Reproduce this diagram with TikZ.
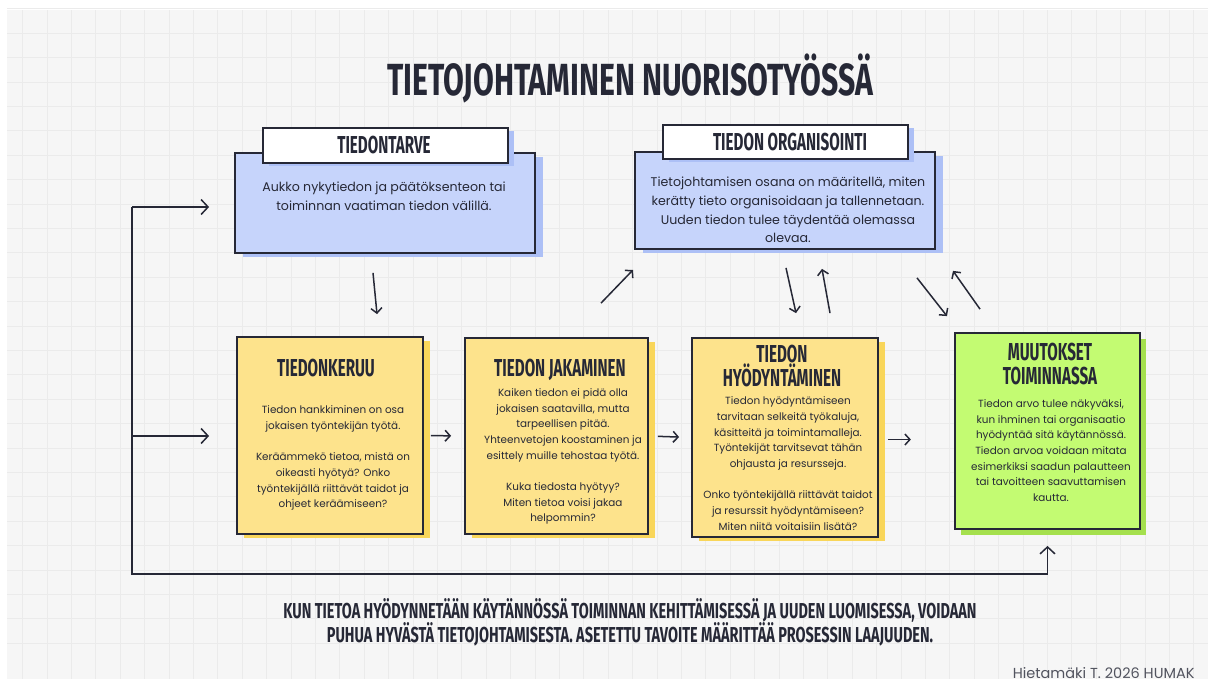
\documentclass[tikz,border=0pt]{standalone}
\usepackage{fontspec}
\setmainfont{Poppins}
\newfontfamily\handfont[FakeStretch=0.62]{Fira Sans}
\newfontfamily\titlefont[FakeStretch=0.67]{Fira Sans}
\usepackage{tikz}
\usetikzlibrary{arrows.meta,calc,shadows}
\definecolor{ink}{HTML}{262836}
\definecolor{paper}{HTML}{F6F6F6}
\definecolor{gridgray}{HTML}{EBEBEB}
\definecolor{bluefill}{HTML}{C6D4FB}
\definecolor{blueshade}{HTML}{ADC0F6}
\definecolor{ylwfill}{HTML}{FDE38C}
\definecolor{ylwshade}{HTML}{F9D65A}
\definecolor{grnfill}{HTML}{C3FB72}
\definecolor{grnshade}{HTML}{A5E04E}
\tikzstyle{card} = [draw=ink, line width=1.8pt, inner sep=0pt]
\tikzstyle{line} = [draw=ink, line width=1.5pt]
\tikzset{
  arr/.style ={line, -{Straight Barb[length=5pt,width=11pt]}},
  bigarr/.style ={line, -{Straight Barb[length=7pt,width=15pt]}},
  bluecard/.style ={card, fill=bluefill, minimum width=300pt, minimum height=100pt,
    drop shadow={shadow xshift=8pt, shadow yshift=-4pt, fill=blueshade, opacity=1}},
  tab/.style ={card, fill=white, minimum width=245pt, minimum height=35pt,
    drop shadow={shadow xshift=6pt, shadow yshift=-3pt, fill=blueshade, opacity=1}},
  ylwcard/.style ={card, fill=ylwfill, minimum width=186pt, minimum height=197pt,
    drop shadow={shadow xshift=7pt, shadow yshift=-4pt, fill=ylwshade, opacity=1}},
  grncard/.style ={card, fill=grnfill, minimum width=185pt, minimum height=196pt,
    drop shadow={shadow xshift=6pt, shadow yshift=-6pt, fill=grnshade, opacity=1}},
  head/.style ={text=ink, align=center, font=\handfont\bfseries\fontsize{24.5}{24}\selectfont},
  body/.style ={text=ink, align=center, font=\fontsize{10.4}{15.7}\selectfont},
  bigbody/.style ={text=ink, align=center, font=\fontsize{12.6}{18.7}\selectfont}
}

\begin{document}
\begin{tikzpicture}[x=1pt,y=-1pt]
	\useasboundingbox (0,0) rectangle (1215,683);
	% paper with grid
	\fill[paper] (7,10) rectangle (1208,679);
	\foreach \i in {0,...,48}
		\draw[gridgray, line width=1pt] (22.7+24.4*\i,10) -- (22.7+24.4*\i,679);
	\foreach \j in {0,...,26}
		\draw[gridgray, line width=1pt] (7,8.9+24.4*\j) -- (1208,8.9+24.4*\j);

	\node[text=ink, font=\titlefont\bfseries\fontsize{45}{50}\selectfont] (title) at (630,78) {TIETOJOHTAMINEN NUORISOTYÖSSÄ};

	% top cards
	\node[bluecard] (need) at (385,203) {};
	\node[tab] (needtab) at (385.5,145.5) {};
	\node[head] (needhead) at (384,145) {TIEDONTARVE};
	\node[bigbody] (needtext) at (384,196) {Aukko nykytiedon ja päätöksenteon tai\\toiminnan vaatiman tiedon välillä.};

	\node[bluecard, minimum height=97pt] (org) at (785,200.5) {};
	\node[tab, minimum height=34pt] (orgtab) at (785.5,142) {};
	\node[head] (orghead) at (790,142) {TIEDON ORGANISOINTI};
	\node[bigbody] (orgtext) at (788,210) {Tietojohtamisen osana on määritellä, miten\\kerätty tieto organisoidaan ja tallennetaan.\\Uuden tiedon tulee täydentää olemassa\\olevaa.};

	% bottom cards
	\node[ylwcard] (keruu) at (330,435.5) {};
	\node[head] (keruuhead) at (326,368) {TIEDONKERUU};
	\node[body] (keruutext) at (333,458) {Tiedon hankkiminen on osa\\jokaisen työntekijän työtä.\\[15.7pt]Keräämmekö tietoa, mistä on\\oikeasti hyötyä? Onko\\työntekijällä riittävät taidot ja\\ohjeet keräämiseen?};

	\node[ylwcard, minimum width=183pt, minimum height=196pt] (jako) at (556.5,436) {};
	\node[head] (jakohead) at (560,370) {TIEDON JAKAMINEN};
	\node[body] (jakotext) at (563,456.5) {Kaiken tiedon ei pidä olla\\jokaisen saatavilla, mutta\\tarpeellisen pitää.\\Yhteenvetojen koostaminen ja\\esittely muille tehostaa työtä.\\[15.7pt]Kuka tiedosta hyötyy?\\Miten tietoa voisi jakaa\\helpommin?};

	\node[ylwcard, minimum height=199pt] (hyoty) at (785,437.5) {};
	\node[head] (hyotyhead) at (782,366.5) {TIEDON\\HYÖDYNTÄMINEN};
	\node[body] (hyotytext) at (788,463.5) {Tiedon hyödyntämiseen\\tarvitaan selkeitä työkaluja,\\käsitteitä ja toimintamalleja.\\Työntekijät tarvitsevat tähän\\ohjausta ja resursseja.\\[15.7pt]Onko työntekijällä riittävät taidot\\ja resurssit hyödyntämiseen?\\Miten niitä voitaisiin lisätä?};

	\node[grncard] (muutos) at (1047.5,431) {};
	\node[head] (muutoshead) at (1050,364.5) {MUUTOKSET\\TOIMINNASSA};
	\node[body] (muutostext) at (1051,450.5) {Tiedon arvo tulee näkyväksi,\\kun ihminen tai organisaatio\\hyödyntää sitä käytännössä.\\Tiedon arvoa voidaan mitata\\esimerkiksi saadun palautteen\\tai tavoitteen saavuttamisen\\kautta.};

	% flow arrows
	\draw[arr] ($(need.south)+(-12,19)$) -- ($(keruu.north)+(47,-22)$);
	\draw[arr, shorten <=7pt, shorten >=13pt] (keruu.east) -- (jako.west);
	\draw[arr, shorten <=9pt, shorten >=12pt] (jako.east) -- (hyoty.west);
	\draw[arr] ($(hyoty.east)+(9,2)$) -- ($(hyoty.east)+(32,2)$);
	\draw[arr] ($(jako.north)+(44.5,-34)$) -- ($(org.south)+(-152,20)$);
	\draw[arr] ($(org.south)+(1,18)$) -- ($(hyoty.north)+(11,-24)$);
	\draw[arr] ($(hyoty.north)+(45,-24)$) -- ($(org.south)+(37,19)$);
	\draw[arr] ($(org.south)+(132,28)$) -- ($(muutos.north)+(-100.5,-16)$);
	\draw[arr] ($(muutos.north)+(-67.5,-23)$) -- ($(org.south)+(168,21)$);

	% feedback loop
	\coordinate (looptop) at (132,207);
	\coordinate (loopmid) at (132,436);
	\coordinate (loopbot) at (132,574);
	\draw[bigarr, shorten >=25pt] (looptop) -- (looptop -| need.west);
	\draw[bigarr, shorten >=27pt] (loopmid) -- (loopmid -| keruu.west);
	\draw[bigarr, shorten >=16pt] (looptop) -- (loopbot) -- (loopbot -| muutos.south) -- (muutos.south);

	\node[text=ink, align=center, font=\titlefont\bfseries\fontsize{21.6}{24}\selectfont] (note) at (630,622) {KUN TIETOA HYÖDYNNETÄÄN KÄYTÄNNÖSSÄ TOIMINNAN KEHITTÄMISESSÄ JA UUDEN LUOMISESSA, VOIDAAN\\PUHUA HYVÄSTÄ TIETOJOHTAMISESTA. ASETETTU TAVOITE MÄÄRITTÄÄ PROSESSIN LAAJUUDEN.};
	\node[text=ink!80, font=\fontsize{14.5}{16}\selectfont, anchor=east] (credit) at (1198,673) {Hietamäki T. 2026 HUMAK};
\end{tikzpicture}
\end{document}
